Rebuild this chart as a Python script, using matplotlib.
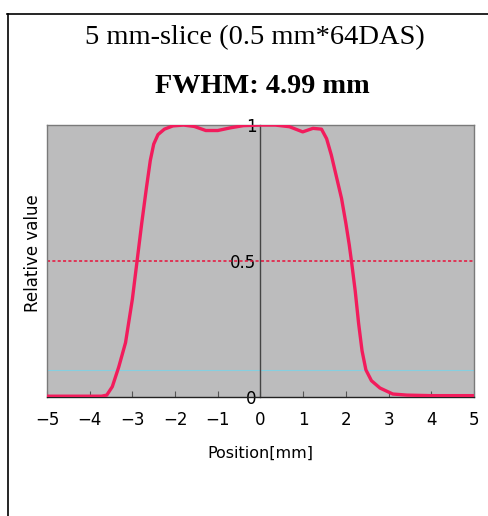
import numpy as np
import matplotlib.pyplot as plt
from matplotlib.lines import Line2D

# slice profile
pos = [-5.0, -4.5, -4.0, -3.72, -3.6, -3.47, -3.32, -3.16, -3.0, -2.89, -2.78, -2.67,
       -2.58, -2.5, -2.4, -2.25, -2.05, -1.8, -1.55, -1.28, -1.0, -0.7, -0.4, 0.0,
       0.35, 0.68, 0.99, 1.23, 1.43, 1.55, 1.66, 1.78, 1.90, 2.0, 2.08, 2.14, 2.22,
       2.30, 2.38, 2.47, 2.6, 2.8, 3.1, 3.43, 4.0, 4.5, 5.0]
val = [0.003, 0.003, 0.003, 0.003, 0.007, 0.038, 0.11, 0.2, 0.36, 0.5, 0.64, 0.77,
       0.87, 0.93, 0.965, 0.985, 0.997, 1.0, 0.995, 0.98, 0.98, 0.99, 0.998, 1.0,
       1.0, 0.994, 0.975, 0.988, 0.985, 0.95, 0.89, 0.81, 0.73, 0.64, 0.56, 0.49, 0.39,
       0.27, 0.17, 0.1, 0.06, 0.033, 0.011, 0.007, 0.005, 0.005, 0.005]
xticks = [-5, -4, -3, -2, -1, 0, 1, 2, 3, 4, 5]
yticks = [0, 0.5, 1]
ytick_labels = ['0', '0.5', '1']
half_max = 0.5
ref_level = 0.1

fig = plt.figure(figsize=(4.89, 5.16), dpi=100)
ax = fig.add_axes([0.0961, 0.2306, 0.873, 0.527])
ax.set_facecolor('#bcbcbd')

ax.axhline(ref_level, color='#86cfe0', lw=0.8, zorder=1)
ax.axhline(half_max, color='#e8103a', lw=1.1, ls=(0, (2, 1.5)), zorder=2)
ax.plot(pos, val, color='#f21c5c', lw=2.4, zorder=3, solid_joinstyle='round',
        solid_capstyle='round')

ax.set_xlim(-5, 5)
ax.set_ylim(0, 1)
ax.set_xticks(xticks)
ax.set_xticklabels([str(t).replace('-', '\u2212') for t in xticks])
ax.set_yticks(yticks)
ax.set_yticklabels(ytick_labels)

for s in ['top', 'right']:
    ax.spines[s].set_color('#7a7a7a')
    ax.spines[s].set_linewidth(1.0)
ax.spines['bottom'].set_color('#222222')
ax.spines['bottom'].set_linewidth(1.0)
ax.spines['left'].set_position(('data', 0))
ax.spines['left'].set_color('#444444')
ax.spines['left'].set_linewidth(1.0)
# outer frame on the left side
ax.add_line(Line2D([0, 0], [0, 1], transform=ax.transAxes, color='#7a7a7a', lw=1.0, clip_on=False))

ax.tick_params(axis='x', direction='in', length=4, color='#555555', labelsize=12, pad=10)
ax.tick_params(axis='y', length=0, labelsize=12, pad=3)

ax.set_xlabel('Position[mm]', fontsize=11.5, labelpad=12)
ax.set_ylabel('Relative value', fontsize=12)
ax.yaxis.set_label_coords(-0.012, 0.53)

fig.text(0.522, 0.928, '5 mm-slice (0.5 mm*64DAS)', ha='center', va='center',
         family='Liberation Serif', fontsize=20.5)
fig.text(0.537, 0.833, 'FWHM: 4.99 mm', ha='center', va='center',
         family='Liberation Serif', fontsize=20.3, weight='bold')

# surrounding frame
fig.add_artist(Line2D([0.015, 1.0], [0.973, 0.973], color='black', lw=1.2))
fig.add_artist(Line2D([0.016, 0.016], [0.0, 0.973], color='black', lw=1.2))

fig.savefig('out.png', dpi=100)
